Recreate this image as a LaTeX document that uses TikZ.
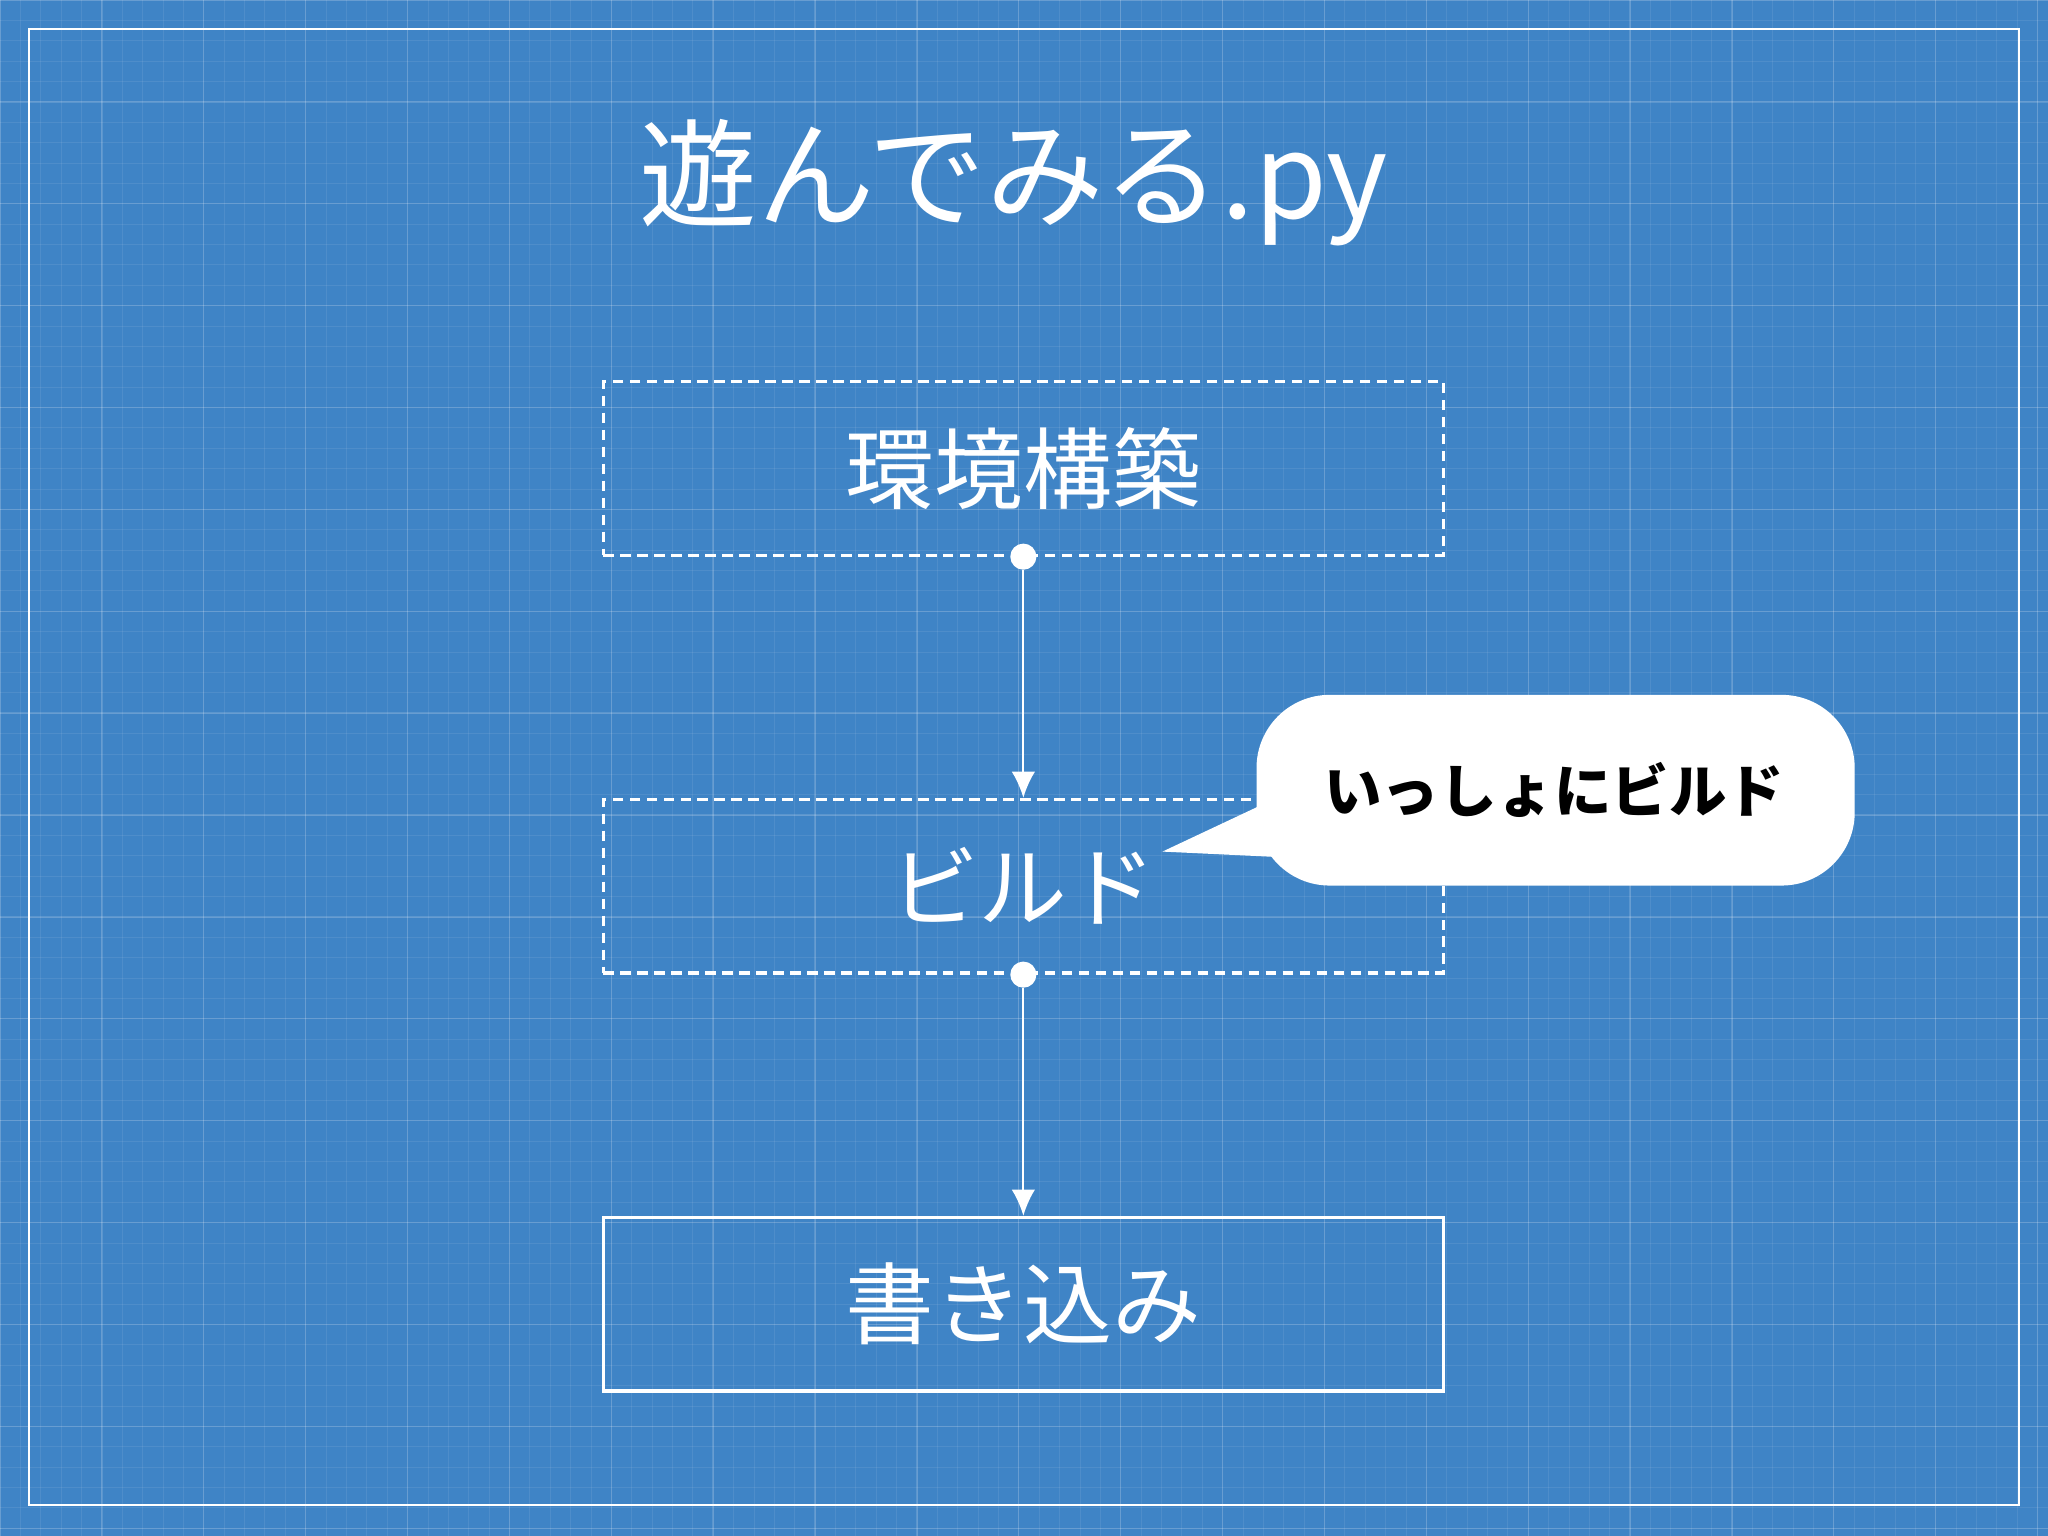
\documentclass[tikz,border=0pt]{standalone}
\usepackage{fontspec}
\newfontfamily\cjk{Noto Sans CJK JP}
\begin{document}
\begin{tikzpicture}[x=0.5pt,y=-0.5pt,
  boxd/.style={draw=white,line width=1.2pt,dash pattern=on 4pt off 2.5pt},
  boxs/.style={draw=white,line width=1.2pt},
  lbl/.style={text=white,font=\cjk\fontsize{34}{38}\selectfont},
  conn/.style={draw=white,line width=0.8pt,-{Latex[length=10pt,width=9pt]}},
  dotn/.style={circle,fill=white,inner sep=0pt,minimum size=10pt}]
\usetikzlibrary{arrows.meta}
\definecolor{bp}{HTML}{3F84C6}
\fill[bp] (0,0) rectangle (1568,1176);
\useasboundingbox (0,0) rectangle (1568,1176);
\foreach \i in {0,...,100}{
  \draw[white,opacity=0.08,line width=0.3pt] ({\i*15.6},0) -- ({\i*15.6},1176);
  \draw[white,opacity=0.08,line width=0.3pt] (0,{\i*15.6}) -- (1568,{\i*15.6});}
\foreach \i in {0,...,20}{
  \draw[white,opacity=0.15,line width=0.5pt] ({\i*78},0) -- ({\i*78},1176);
  \draw[white,opacity=0.15,line width=0.5pt] (0,{\i*78}) -- (1568,{\i*78});}
\draw[white,line width=0.8pt] (22,22) rectangle (1546,1152);
\node[text=white,font=\cjk\fontsize{45}{50}\selectfont] (title) at (776,140) {遊んでみる.py};
\node[boxd,minimum width=321.5pt,minimum height=66.5pt] (b1) at (783.5,358.5) {};
\node[lbl] at (b1) {環境構築};
\node[boxd,minimum width=321.5pt,minimum height=66.5pt] (b2) at (783.5,678.5) {};
\node[lbl] at (b2) {ビルド};
\node[boxs,minimum width=321.5pt,minimum height=66.5pt] (b3) at (783.5,998.5) {};
\node[lbl] at (b3) {書き込み};
\node[dotn] (d1) at (b1.south) {};
\node[dotn] (d2) at (b2.south) {};
\draw[conn] (d1) -- (b2.north);
\draw[conn] (d2) -- (b3.north);
\coordinate (tip) at (890,652);
\fill[white,rounded corners=28pt] (962,532) rectangle (1420,678);
\fill[white] (975,612) -- (tip) -- (975,656) -- cycle;
\node[font=\cjk\bfseries\fontsize{22}{26}\selectfont,text=black] (call) at (1190,605) {いっしょにビルド};
\end{tikzpicture}
\end{document}
